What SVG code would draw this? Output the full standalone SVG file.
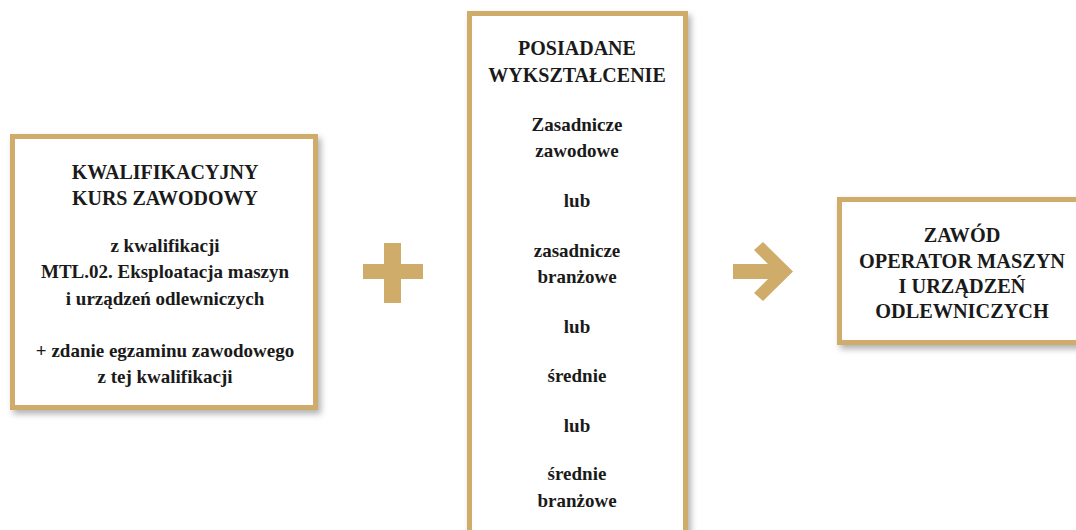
<svg xmlns="http://www.w3.org/2000/svg" width="1076" height="530" viewBox="0 0 1076 530">
<defs>
<filter id="sh" x="-10%" y="-10%" width="130%" height="130%">
<feDropShadow dx="3" dy="4" stdDeviation="3" flood-color="#000" flood-opacity="0.3"/>
</filter>
<style>
.box{fill:#fff;stroke:#CFAC6A;stroke-width:5;filter:url(#sh)}
.t{font-family:"Liberation Serif","Times New Roman",serif;font-weight:bold;fill:#1a1a1a;text-anchor:middle}
.cap{font-size:20px}
.capr{font-size:20.3px}
.low{font-size:19px}
.sym{fill:#CFAC6A}
</style>
</defs>
<rect width="1076" height="530" fill="#fff"/>
<g id="node-kurs">
<rect class="box" x="12.5" y="136.5" width="303" height="271"/>
<text class="t cap" x="165" y="179">KWALIFIKACYJNY</text>
<text class="t cap" x="165" y="205">KURS ZAWODOWY</text>
<text class="t low" x="165" y="252">z kwalifikacji</text>
<text class="t low" x="165" y="278">MTL.02. Eksploatacja maszyn</text>
<text class="t low" x="165" y="305">i urządzeń odlewniczych</text>
<text class="t low" x="165" y="357">+ zdanie egzaminu zawodowego</text>
<text class="t low" x="165" y="383">z tej kwalifikacji</text>
</g>
<g id="node-wyksztalcenie">
<rect class="box" x="469.5" y="13.5" width="216" height="545"/>
<text class="t cap" x="577" y="55">POSIADANE</text>
<text class="t cap" x="577" y="82">WYKSZTAŁCENIE</text>
<text class="t low" x="577" y="131">Zasadnicze</text>
<text class="t low" x="577" y="157">zawodowe</text>
<text class="t low" x="577" y="207">lub</text>
<text class="t low" x="577" y="257">zasadnicze</text>
<text class="t low" x="577" y="283">branżowe</text>
<text class="t low" x="577" y="333">lub</text>
<text class="t low" x="577" y="382">średnie</text>
<text class="t low" x="577" y="432">lub</text>
<text class="t low" x="577" y="480">średnie</text>
<text class="t low" x="577" y="507">branżowe</text>
</g>
<g id="node-zawod">
<rect class="box" x="839.5" y="199.5" width="260" height="143"/>
<text class="t capr" x="962" y="242">ZAWÓD</text>
<text class="t capr" x="962" y="268">OPERATOR MASZYN</text>
<text class="t capr" x="962" y="293">I URZĄDZEŃ</text>
<text class="t capr" x="962" y="318">ODLEWNICZYCH</text>
</g>
<g id="connectors">
<path class="sym" d="M384 243H401V264H423V279H401V303H384V279H363V264H384Z"/>
<path class="sym" d="M733 264H768L754 250L763 242L793 271.5L763 301L754 293L768 279H733Z"/>
</g>
</svg>
